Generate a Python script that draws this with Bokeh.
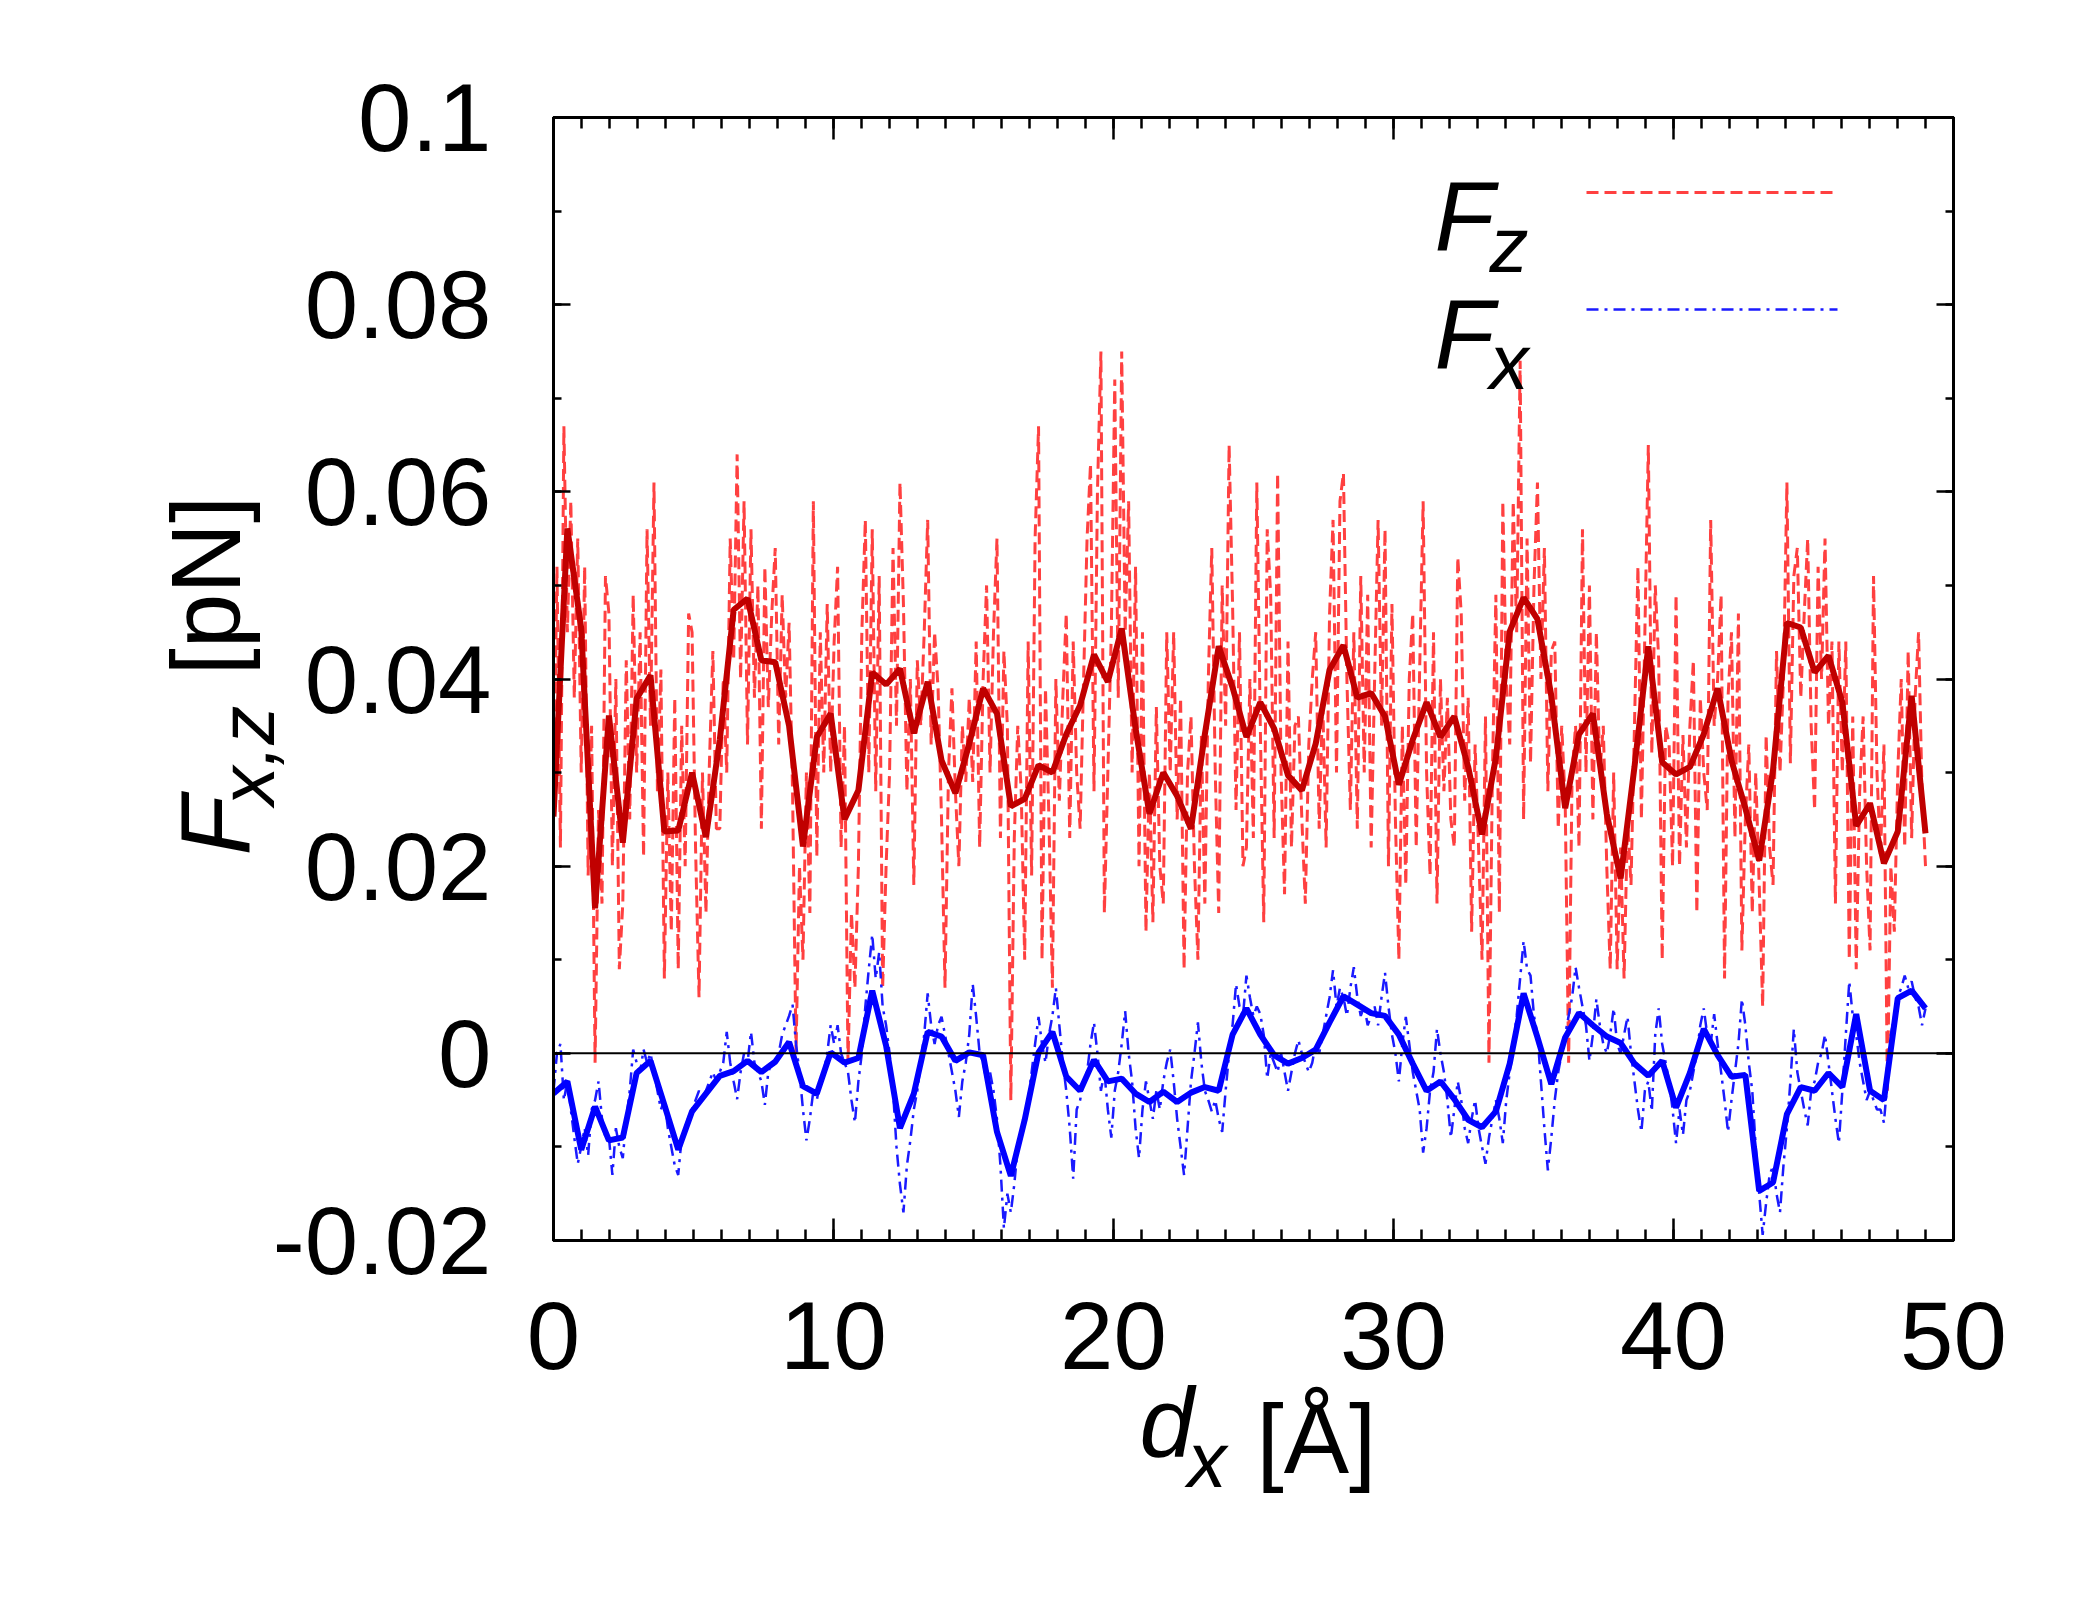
import numpy as np
from bokeh.plotting import figure
from bokeh.models import (Range1d, LinearAxis, FixedTicker, Span, Label, Title,
                          Arrow, ColumnDataSource)
from bokeh.embed import file_html
from bokeh.resources import INLINE

X_FIRST, X_LAST = 0.0, 49.0
fz_smooth = [0.0253, 0.0561, 0.0454, 0.0155, 0.0361, 0.0225, 0.0379, 0.0404, 0.0237, 0.0238,
             0.0300, 0.0231, 0.0335, 0.0474, 0.0486, 0.0420, 0.0418, 0.0350, 0.0221, 0.0338,
             0.0363, 0.0250, 0.0281, 0.0407, 0.0394, 0.0411, 0.0342, 0.0397, 0.0313, 0.0278,
             0.0331, 0.0390, 0.0363, 0.0264, 0.0272, 0.0308, 0.0300, 0.0341, 0.0372, 0.0426,
             0.0397, 0.0454, 0.0347, 0.0256, 0.0300, 0.0275, 0.0240, 0.0341, 0.0435, 0.0391,
             0.0338, 0.0375, 0.0347, 0.0297, 0.0281, 0.0331, 0.0410, 0.0436, 0.0380, 0.0385,
             0.0360, 0.0287, 0.0335, 0.0375, 0.0338, 0.0360, 0.0306, 0.0234, 0.0316, 0.0451,
             0.0487, 0.0464, 0.0382, 0.0262, 0.0341, 0.0363, 0.0256, 0.0187, 0.0306, 0.0435,
             0.0311, 0.0298, 0.0306, 0.0341, 0.0390, 0.0313, 0.0262, 0.0206, 0.0303, 0.0460,
             0.0455, 0.0407, 0.0425, 0.0375, 0.0243, 0.0267, 0.0203, 0.0237, 0.0382, 0.0235]
fx_smooth = [-0.0043, -0.0030, -0.0103, -0.0057, -0.0093, -0.0090, -0.0021, -0.0008, -0.0055, -0.0103,
             -0.0062, -0.0043, -0.0024, -0.0019, -0.0008, -0.0020, -0.0009, 0.0012, -0.0035, -0.0043,
             0.0001, -0.0010, -0.0005, 0.0067, 0.0008, -0.0080, -0.0043, 0.0023, 0.0018, -0.0008,
             0.0001, -0.0002, -0.0084, -0.0131, -0.0071, 0.0001, 0.0023, -0.0025, -0.0040, -0.0007,
             -0.0030, -0.0027, -0.0043, -0.0052, -0.0041, -0.0052, -0.0042, -0.0036, -0.0040, 0.0020,
             0.0048, 0.0020, -0.0002, -0.0011, -0.0005, 0.0004, 0.0033, 0.0061, 0.0052, 0.0043,
             0.0040, 0.0020, -0.0011, -0.0040, -0.0030, -0.0049, -0.0071, -0.0079, -0.0062, -0.0011,
             0.0064, 0.0017, -0.0033, 0.0017, 0.0043, 0.0030, 0.0018, 0.0011, -0.0011, -0.0024,
             -0.0008, -0.0058, -0.0021, 0.0026, -0.0002, -0.0025, -0.0023, -0.0147, -0.0138, -0.0065,
             -0.0036, -0.0040, -0.0021, -0.0036, 0.0042, -0.0040, -0.0050, 0.0059, 0.0067, 0.0048]
fz_raw_milli = [
    25, 52, 22, 67, 45, 59, 38, 55, 30, 52, 19, 35, -1, 26, 16, 51,
    47, 20, 40, 9, 16, 42, 25, 49, 30, 45, 21, 56, 35, 61, 28, 41,
    8, 30, 13, 38, 9, 35, 20, 47, 45, 22, 6, 30, 15, 31, 43, 24,
    24, 40, 30, 55, 42, 64, 40, 59, 33, 56, 38, 50, 24, 52, 37, 47,
    54, 33, 49, 38, 46, 28, 0, 20, 10, 30, 15, 59, 21, 45, 30, 48,
    30, 44, 52, 22, 35, -1, 15, 7, 20, 45, 57, 30, 56, 28, 51, 7,
    20, 30, 54, 35, 61, 48, 28, 40, 18, 42, 35, 45, 57, 33, 45, 39,
    25, 7, 30, 39, 28, 20, 35, 29, 38, 29, 44, 22, 40, 50, 30, 45,
    55, 23, 43, 35, -5, 23, 35, 28, 10, 44, 19, 55, 67, 10, 39, 25,
    7, 40, 27, 38, 47, 23, 44, 30, 24, 40, 55, 63, 28, 60, 75, 15,
    30, 45, 72, 38, 75, 45, 59, 30, 52, 20, 45, 13, 30, 14, 37, 20,
    16, 45, 30, 45, 25, 38, 9, 30, 36, 20, 10, 34, 16, 40, 54, 30,
    15, 50, 35, 65, 48, 26, 45, 20, 22, 40, 23, 61, 35, 14, 56, 49,
    23, 62, 30, 17, 44, 22, 35, 36, 25, 16, 33, 40, 45, 24, 38, 22,
    47, 57, 30, 59, 62, 40, 26, 45, 24, 51, 30, 49, 22, 40, 57, 35,
    56, 20, 48, 25, 10, 35, 18, 40, 47, 22, 41, 59, 30, 19, 45, 16,
    40, 28, 38, 25, 22, 53, 47, 27, 38, 13, 33, 22, 10, 36, -1, 30,
    49, 15, 59, 40, 33, 59, 45, 74, 25, 55, 31, 50, 61, 40, 54, 28,
    43, 44, 24, 35, 27, -1, 30, 35, 22, 56, 30, 50, 25, 45, 30, 35,
    20, 9, 30, 9, 22, 8, 25, 18, 35, 52, 25, 45, 65, 32, 50, 42,
    10, 35, 33, 20, 49, 20, 34, 22, 35, 42, 15, 38, 30, 26, 57, 35,
    40, 49, 8, 38, 45, 23, 47, 11, 25, 33, 15, 30, 18, 5, 34, 22,
    18, 43, 30, 40, 61, 31, 51, 54, 38, 47, 55, 35, 26, 52, 40, 55,
    35, 44, 16, 44, 30, 44, 10, 36, 9, 28, 36, 20, 11, 51, 30, 21,
    33, -4, 20, 13, 30, 40, 22, 43, 23, 38, 45, 28, 20]
fx_raw_milli = [
    -4, 0, 1, -5, -3, -6, -9, -11.8, -10, -8, -10.9, -6, -5, -3, -7, -9,
    -9, -13, -8, -10, -11.2, -7, -4, 0.4, -1, -2, 0.4, -1, 0, -2, -4, -6,
    -5, -8, -10, -12, -13, -9, -8, -6.8, -6, -5, -4, -5, -4, -3, -2, -3,
    -2, -1, 2.3, -1, -3, -4.9, -2, 0, -1, 2.3, -1, -2, -3, -5.5, -2, -1,
    -1, 0, 2, 3, 4, 5.2, 1, -2, -6, -9.3, -7, -4, -5, -3, -2, 0,
    3, 1, 3, 0, -1, -2, -5, -7.4, -3, 0, 5, 9, 12.7, 8, 10.8, 5,
    3, 0, -4, -10, -14, -17, -12, -9.3, -6, -4, -1, 2, 6.4, 3, 1, 3,
    3.9, 2, 0, -2, -4, -6.8, -3, -1, 2, 7.4, 3.9, 0, -1, -3, -2, -4,
    -7, -12, -18.7, -15, -17, -14, -10, -9, -7, -5, -2, 1, 3.9, 1, -1, 2,
    4, 7, 3, -1, -4, -8, -13.4, -6, -5, -3, -2, 1, 3.3, 0, -4, -2,
    -6, -9, -4, -2, 1, 4.5, 0, -3, -8, -11.2, -6, -3, -5, -7, -4, -6,
    -3, -1, 0.4, -3, -7, -10, -13, -8, -3, 0, 3.3, -1, -4, -5, -6.2, -5,
    -7, -8.4, -4, 0, 3, 7.4, 5, 4, 8.3, 6, 4, 5, 4.2, 2, -2.7, 0,
    -1, -2, 0, -2, -4, -2, 0, 1.4, 0, -1, -2, -1, 1, 0, 2, 4,
    6, 8.9, 5, 7, 6, 4, 7, 9.2, 6, 4, 5, 3, 4, 5, 3, 6,
    8.6, 5, 2, 0, -3, 1, 3.9, 1, -2, -4, -6, -10.6, -8, -4, -2, 2.6,
    0, -2, -5, -9, -6, -3, -5, -8, -9.6, -7, -5, -8, -10, -11.8, -9, -7,
    -5, -7, -9.6, -5, -2, 1, 4, 8, 12, 9, 8.3, 4, 2, -3, -8, -12.5,
    -9, -5, -2, 0, 2, 4, 6, 9.2, 7, 5, 3, -0.8, 2, 5.8, 3, 1,
    0, 2, 4.8, 1, 0, 2, 3.9, 0, -3, -6, -8.4, -4, -3, -6.2, 2, 4.8,
    1, -1, -3, -6, -9.6, -6, -8.7, -5, -4, -2, 0, 3, 4.8, 2, 1, 4.2,
    1, -2, -5, -8.4, -5, -2, 1, 5.8, 3, -1, -4, -10, -15, -19.4, -16, -13,
    -12, -15, -17, -12, -8, -3, 2.6, -2, -4, -6, -7.7, -4, -3, -1, 0, 2,
    -1, -4, -7, -9.6, -4, 2, 7.7, 4, 2, -1, -3, -5, -4, -5, -6, -6,
    -7.4, -3, 2, 4, 6, 7, 8.3, 7, 7.7, 6, 5, 3, 4.8]

x_ticks = [0, 10, 20, 30, 40, 50]
x_tick_labels = ["0", "10", "20", "30", "40", "50"]
x_minor = list(range(0, 51))
y_ticks = [-0.02, 0.0, 0.02, 0.04, 0.06, 0.08, 0.1]
y_tick_labels = ["-0.02", "0", "0.02", "0.04", "0.06", "0.08", "0.1"]
y_minor = [-0.02, -0.01, 0.0, 0.01, 0.02, 0.03, 0.04, 0.05, 0.06, 0.07, 0.08, 0.09, 0.1]

xs_s = np.linspace(X_FIRST, X_LAST, len(fz_smooth))
xs_r = np.linspace(X_FIRST, X_LAST, len(fz_raw_milli))
xs_rx = np.linspace(X_FIRST, X_LAST, len(fx_raw_milli))
src_smooth = ColumnDataSource(dict(x=xs_s, fz=fz_smooth, fx=fx_smooth))
src_rz = ColumnDataSource(dict(x=xs_r, y=np.array(fz_raw_milli) * 1e-3))
src_rx = ColumnDataSource(dict(x=xs_rx, y=np.array(fx_raw_milli) * 1e-3))

W, H = 2080, 1580
FL, FT, FW, FH = 553, 117, 1400, 1123
FB = FT + FH
FONT = "Liberation Sans"
CAP, DESC = 0.716, 0.212

RED_RAW, BLUE_RAW = "#ff4040", "#1a1aff"
RED_DASH, BLUE_DASH = "12 6", "12 6 3 6"

p = figure(width=W, height=H, output_backend="svg", toolbar_location=None,
           x_range=Range1d(0, 50), y_range=Range1d(-0.02, 0.1),
           x_axis_location=None, y_axis_location=None,
           min_border_left=FL, min_border_top=FT,
           min_border_right=W - FL - FW, min_border_bottom=H - FT - FH)
p.grid.visible = False
p.outline_line_color = "black"
p.outline_line_width = 3

def tick_axis(ticks, minor, tick_in, minor_in, labels=None, standoff=0):
    ax = LinearAxis(ticker=FixedTicker(ticks=ticks, minor_ticks=minor))
    ax.axis_line_width = 3
    ax.major_tick_in = tick_in
    ax.major_tick_out = 0
    ax.minor_tick_in = minor_in
    ax.minor_tick_out = 0
    ax.major_tick_line_width = 2.5
    ax.minor_tick_line_width = 2.5
    if labels is None:
        ax.major_label_text_alpha = 0
        ax.major_label_text_font_size = "1px"
        ax.major_label_standoff = 0
    else:
        ax.major_label_overrides = {t: l for t, l in zip(ticks, labels)}
        ax.major_label_text_font = FONT
        ax.major_label_text_font_size = "96px"
        ax.major_label_text_color = "black"
        ax.major_label_standoff = standoff
    return ax

def gap(px, tick):
    """an invisible axis that only reserves about px pixels of a side panel"""
    ax = LinearAxis(ticker=FixedTicker(ticks=[tick], minor_ticks=[]))
    ax.axis_line_alpha = 0
    ax.major_tick_line_alpha = 0
    ax.minor_tick_line_alpha = 0
    ax.major_tick_in = 0
    ax.minor_tick_in = 0
    ax.minor_tick_out = 0
    ax.major_tick_out = max(0, int(round(px)) - 1)
    ax.major_label_text_alpha = 0
    ax.major_label_text_font_size = "1px"
    ax.major_label_standoff = 0
    return ax

Y_STANDOFF, X_STANDOFF = 62, 61
p.add_layout(tick_axis(y_ticks, y_minor, 17, 8, y_tick_labels, Y_STANDOFF), "left")
p.add_layout(tick_axis(y_ticks, y_minor, 17, 8), "right")
p.add_layout(tick_axis(x_ticks, x_minor, 22, 11, x_tick_labels, X_STANDOFF), "below")
p.add_layout(tick_axis(x_ticks, x_minor, 22, 11), "above")

p.add_layout(Span(location=0, dimension="width", line_color="black", line_width=2))

p.line("x", "y", source=src_rz, line_color=RED_RAW, line_width=3, line_dash=RED_DASH)
p.line("x", "y", source=src_rx, line_color=BLUE_RAW, line_width=2.5, line_dash=BLUE_DASH)
p.line("x", "fz", source=src_smooth, line_color="#c00000", line_width=6)
p.line("x", "fx", source=src_smooth, line_color="#0000ff", line_width=6)

# key samples (screen units measured from the frame's bottom-left corner)
for y_key, col, dash, lw in [(192, RED_RAW, RED_DASH, 3), (309, BLUE_RAW, BLUE_DASH, 2.5)]:
    p.add_layout(Arrow(start=None, end=None, x_start=1586 - FL, x_end=1837 - FL,
                       y_start=FB - y_key, y_end=FB - y_key,
                       start_units="screen", end_units="screen",
                       line_color=col, line_width=lw, line_dash=dash))

def lab(text, X, Y, size, italic=False):
    p.add_layout(Label(x=0, y=-0.02, x_offset=X - FL, y_offset=FB - Y,
                       text=text, text_font=FONT, text_font_size=f"{size}px",
                       text_font_style="italic" if italic else "normal",
                       text_color="black", text_align="left",
                       text_baseline="alphabetic"))
lab("F", 1434, 215, 98, italic=True)
lab("z", 1489, 244, 78, italic=True)
lab("F", 1434, 333, 98, italic=True)
lab("x", 1489, 361, 78, italic=True)

def box_h(size):
    return (CAP + DESC) * size

def box_mid(size):
    return (CAP - DESC) / 2 * size

def panel_title(side, text, size, extent, offset, italic=False):
    t = Title(text=text, align="left", offset=offset, vertical_align="middle",
              text_font=FONT, text_font_size=f"{size}px",
              text_font_style="italic" if italic else "normal",
              text_color="black", standoff=extent - 2 - box_h(size))
    p.add_layout(t, side)

# ---- x title: d_x [Å] ----
y_after_axis = FB + X_STANDOFF + box_h(96)
c_main = 1457 - box_mid(98)
c_sub = 1487 - box_mid(78)
SUB_FIX = 60
p.add_layout(gap(c_main - y_after_axis, 25), "below")
panel_title("below", "d", 98, 0, 1139 - FL, italic=True)
panel_title("below", "[Å]", 98, -4, 1256 - FL)
panel_title("below", "x", 78, 2 * (c_sub - c_main) - SUB_FIX, 1187 - FL, italic=True)

# ---- y title: F_{x,z} [pN] (rotated, reads upward) ----
y_label_w = 2.279 * 96
x_after_axis = FL - Y_STANDOFF - y_label_w
cx_sub = 277 - box_mid(78)
sub_extent = 2 * (x_after_axis - cx_sub)
PN_FIX = 36      # empirical: brings [pN] onto the same baseline as F
panel_title("left", "x,z", 78, sub_extent, FB - 805, italic=True)
panel_title("left", "F", 98, 0, FB - 855, italic=True)
panel_title("left", "[pN]", 98, -PN_FIX, FB - 675)

open("out.html", "w").write(file_html(p, INLINE))
